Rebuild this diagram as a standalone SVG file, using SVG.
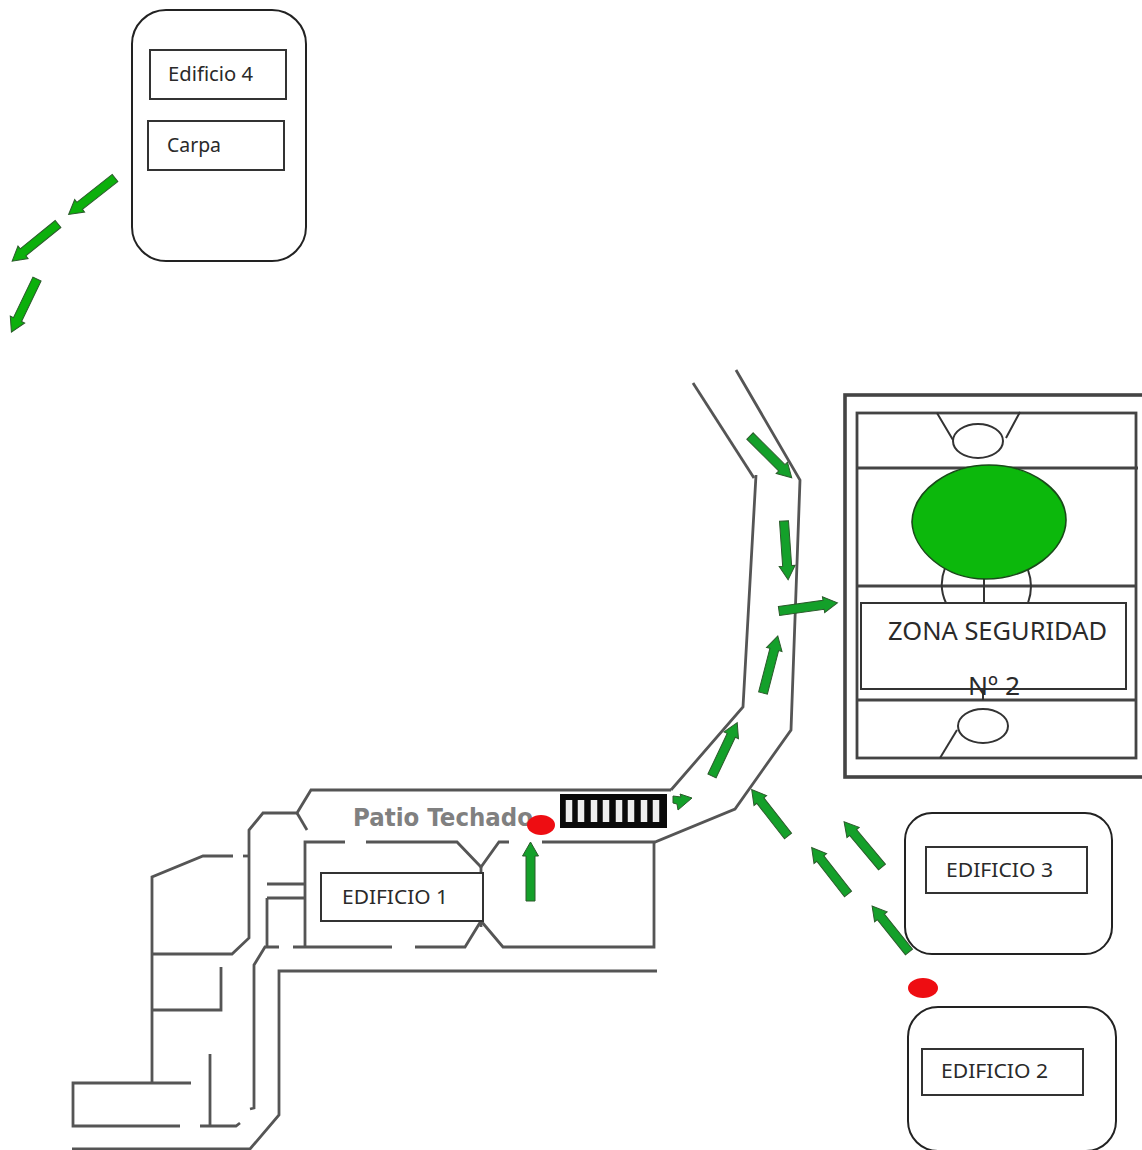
<svg xmlns="http://www.w3.org/2000/svg" width="1142" height="1150" viewBox="0 0 1142 1150">
<style>
text{font-family:"Noto Sans","DejaVu Sans",sans-serif;fill:#2a2a2a}
.l{font-size:19px}
.wall{fill:none;stroke:#555;stroke-width:2.8;stroke-linejoin:miter}
.bld{fill:#fff;stroke:#222;stroke-width:2}
.box{fill:#fff;stroke:#333;stroke-width:2}
.court{fill:none;stroke:#444;stroke-width:2.8}
.outer{fill:none;stroke:#444;stroke-width:3.6}
.thin{fill:none;stroke:#333;stroke-width:2}
.arr{fill:#14a02a;stroke:#2b5a2b;stroke-width:1}
.arr2{fill:#0cb00c;stroke:#2b5a2b;stroke-width:1}
.red{fill:#ee0d12}
</style>
<defs>
<path id="a" d="M0-4.500H45V-8L59 0 45 8V4.500H0Z"/>
</defs>
<rect width="1142" height="1150" fill="#fff"/>

<g id="plano-paredes" class="wall">
<path d="M671 790H311L297 813H263L249 830V938L232 954H152"/>
<path d="M297 813L307 830"/>
<path d="M233 856H203L152 877V1083"/>
<path d="M243 856H250"/>
<path d="M345 842H305V947"/>
<path d="M366 842H457L481 867L499 842H509"/>
<path d="M481 867V873M481 921V927"/>
<path d="M542 842H655L735 809L791 730L800 480L736 370"/>
<path d="M671 790L743 707L756 475"/>
<path d="M693 383L754 478"/>
<path d="M654 842V947H503L481 921L465 947H415"/>
<path d="M392 947H293"/>
<path d="M279 947H265L254 965V1108L250 1109"/>
<path d="M267 884H305M267 898H305M267 898V947"/>
<path d="M657 971H279V1115L250 1149H72"/>
<path d="M152 1010H221V967"/>
<path d="M191 1083H73V1126H180"/>
<path d="M200 1126H236L240 1123"/>
<path d="M210 1054V1126"/>
</g>

<g id="escalera">
<rect x="560" y="794" width="107" height="34" fill="#0a0a0a"/>
<path d="M569 800V822M581 800V822M594 800V822M606 800V822M619 800V822M631 800V822M644 800V822M656 800V822" stroke="#eee" stroke-width="6.5" fill="none"/>
</g>

<g id="patio-techado">
<text x="353" y="826" style="font-family:'DejaVu Sans',sans-serif;font-weight:bold;fill:#808080" font-size="24" textLength="180" lengthAdjust="spacingAndGlyphs">Patio Techado</text>
</g>

<g id="edificio-1">
<rect class="box" x="321" y="873" width="162" height="48"/>
<text class="l" x="342" y="904" textLength="106" lengthAdjust="spacingAndGlyphs">EDIFICIO 1</text>
</g>

<g id="punto-patio"><ellipse class="red" cx="541" cy="825" rx="14" ry="10"/></g>

<g id="zona-seguridad">
<rect x="845" y="395" width="300" height="382" class="outer"/>
<rect x="857" y="413" width="279" height="345" class="court"/>
<path class="court" d="M857 468H1138M857 586H1136M857 700H1136"/>
<path class="thin" d="M937 413L953 440M1020 412L1006 438"/>
<ellipse class="thin" cx="978" cy="441" rx="25" ry="17"/>
<ellipse class="thin" cx="983" cy="726" rx="25" ry="17"/>
<path class="thin" d="M957 730L940 758"/>
<path class="thin" d="M945 568Q938 586 946 603M1028 570Q1034 586 1028 603M984 577V603M983 689V700"/>
<path d="M989 465C1030 465 1066 490 1066 520C1066 550 1030 579 985 579C945 579 913 550 912 522C913 490 950 465 989 465Z" fill="#0cb80c" stroke="#1a4a1a" stroke-width="1.6"/>
<rect class="box" x="861" y="603" width="265" height="86"/>
<text x="888" y="640" font-size="25" textLength="219" lengthAdjust="spacingAndGlyphs">ZONA SEGURIDAD</text>
<text x="968" y="695" font-size="25" textLength="52" lengthAdjust="spacingAndGlyphs">Nº 2</text>
</g>

<g id="edificio-3">
<rect class="bld" x="905" y="813" width="207" height="141" rx="27"/>
<rect class="box" x="926" y="847" width="161" height="46"/>
<text class="l" x="946" y="877" textLength="107" lengthAdjust="spacingAndGlyphs">EDIFICIO 3</text>
</g>

<g id="edificio-2">
<rect class="bld" x="908" y="1007" width="208" height="144" rx="30"/>
<rect class="box" x="922" y="1049" width="161" height="46"/>
<text class="l" x="941" y="1078" textLength="107" lengthAdjust="spacingAndGlyphs">EDIFICIO 2</text>
</g>

<g id="punto-edificios"><ellipse class="red" cx="923" cy="988" rx="15" ry="10"/></g>

<g id="edificio-4">
<rect class="bld" x="132" y="10" width="174" height="251" rx="34"/>
<rect class="box" x="150" y="50" width="136" height="49"/>
<text class="l" x="168" y="81" textLength="85" lengthAdjust="spacingAndGlyphs">Edificio 4</text>
<rect class="box" x="148" y="121" width="136" height="49"/>
<text class="l" x="167" y="152" textLength="54" lengthAdjust="spacingAndGlyphs">Carpa</text>
</g>

<g id="flechas" class="arr">
<g class="arr2">
<use href="#a" transform="translate(115 178) rotate(141.8)"/>
<use href="#a" transform="translate(58 224) rotate(141)"/>
<use href="#a" transform="translate(37 279) rotate(115.7)"/>
</g>
<use href="#a" transform="translate(750 436) rotate(45)"/>
<use href="#a" transform="translate(784 521) rotate(86)"/>
<use href="#a" transform="translate(779 611) rotate(-8)"/>
<use href="#a" transform="translate(763 693) rotate(-75.5)"/>
<use href="#a" transform="translate(712 776) rotate(-64.7)"/>
<use href="#a" transform="translate(530.500 901) rotate(-90)"/>
<path d="M673 796L681 797L680 794L692 798L678 810L677 804L673 803Z"/>
<use href="#a" transform="translate(788 836) rotate(-128)"/>
<use href="#a" transform="translate(882 867) rotate(-130)"/>
<use href="#a" transform="translate(848 894) rotate(-128)"/>
<use href="#a" transform="translate(909 952) rotate(-128.700)"/>
</g>
</svg>
